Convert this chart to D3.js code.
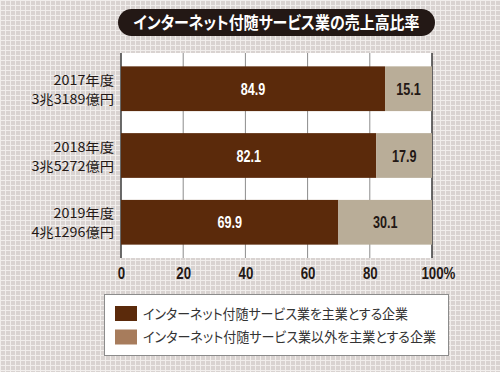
<!DOCTYPE html>
<html>
<head>
<meta charset="utf-8">
<script src="https://cdn.jsdelivr.net/npm/d3@7"></script>
<style>
  body { margin: 0; }
  svg { display: block; }
</style>
</head>
<body>
<div id="chart"></div>
<script>
var years = ["2017年度", "2018年度", "2019年度"];
var totals = ["3兆3189億円", "3兆5272億円", "4兆1296億円"];
var mainShare = [84.9, 82.1, 69.9];
var otherShare = [15.1, 17.9, 30.1];
var xTicks = [0, 20, 40, 60, 80, 100];
var seriesNames = ["インターネット付随サービス業を主業とする企業", "インターネット付随サービス業以外を主業とする企業"];
var title = "インターネット付随サービス業の売上高比率";

var W = 500, H = 372;
var jp = "'Noto Sans CJK JP', 'Noto Sans', sans-serif";
var num = "'Liberation Sans', Arial, sans-serif";

// squeeze text horizontally (condensed look)
function squeeze(sel, k) {
  sel.each(function() {
    var w = this.getComputedTextLength();
    d3.select(this).attr("textLength", w * k).attr("lengthAdjust", "spacingAndGlyphs");
  });
}
function fitTo(sel, w) {
  sel.attr("textLength", w).attr("lengthAdjust", "spacingAndGlyphs");
}

var svg = d3.select("#chart").append("svg")
  .attr("width", W)
  .attr("height", H);

// grid paper background
var pat = svg.append("defs").append("pattern")
  .attr("id", "paper")
  .attr("width", 5).attr("height", 5)
  .attr("patternUnits", "userSpaceOnUse");
pat.append("rect").attr("width", 5).attr("height", 5).attr("fill", "#d9d3d1");
pat.append("path").attr("d", "M0,0.5H5M0.5,0V5").attr("stroke", "#f1eeec").attr("stroke-width", 1);
svg.append("rect").attr("width", W).attr("height", H).attr("fill", "url(#paper)");

var x = d3.scaleLinear().domain([0, 100]).range([121, 432]);
var y = d3.scaleBand().domain(years).range([53, 258]).paddingInner(0.33).paddingOuter(0.2);

// plot area
svg.append("rect")
  .attr("x", x(0)).attr("y", 53)
  .attr("width", x(100) - x(0)).attr("height", 258 - 53)
  .attr("fill", "#fff");

svg.append("g").selectAll("line")
  .data(xTicks)
  .join("line")
    .attr("x1", function(d) { return x(d); })
    .attr("x2", function(d) { return x(d); })
    .attr("y1", 53).attr("y2", 258)
    .attr("stroke", function(d) { return d == 0 || d == 100 ? "#3a3a3a" : "#8c8c8c"; })
    .attr("stroke-width", function(d) { return d == 0 || d == 100 ? 1.5 : 1; });

// bars
var rows = years.map(function(yr, i) { return { year: yr, a: mainShare[i], b: otherShare[i] }; });

svg.append("g").selectAll("rect")
  .data(rows)
  .join("rect")
    .attr("x", x(0))
    .attr("y", function(d) { return y(d.year); })
    .attr("width", function(d) { return x(d.a) - x(0); })
    .attr("height", y.bandwidth())
    .attr("fill", "#5b2a0b");

svg.append("g").selectAll("rect")
  .data(rows)
  .join("rect")
    .attr("x", function(d) { return x(d.a); })
    .attr("y", function(d) { return y(d.year); })
    .attr("width", function(d) { return x(100) - x(d.a); })
    .attr("height", y.bandwidth())
    .attr("fill", "#b9ad98");

svg.append("g").selectAll("text")
  .data(rows)
  .join("text")
    .attr("x", function(d) { return x(d.a / 2); })
    .attr("y", function(d) { return y(d.year) + y.bandwidth() / 2; })
    .attr("dy", "0.36em")
    .attr("text-anchor", "middle")
    .style("font-family", num).style("font-weight", "bold").style("font-size", "17px")
    .attr("fill", "#fff")
    .text(function(d) { return d.a.toFixed(1); })
    .call(squeeze, 0.74);

svg.append("g").selectAll("text")
  .data(rows)
  .join("text")
    .attr("x", function(d) { return x(d.a + d.b / 2); })
    .attr("y", function(d) { return y(d.year) + y.bandwidth() / 2; })
    .attr("dy", "0.36em")
    .attr("text-anchor", "middle")
    .style("font-family", num).style("font-weight", "bold").style("font-size", "17px")
    .attr("fill", "#231815")
    .text(function(d) { return d.b.toFixed(1); })
    .call(squeeze, 0.74);

// category labels (two lines each)
svg.append("g").selectAll("text")
  .data(rows)
  .join("text")
    .attr("x", 114)
    .attr("y", function(d) { return y(d.year) + y.bandwidth() / 2 - 8.5; })
    .attr("dy", "0.36em")
    .attr("text-anchor", "end")
    .style("font-family", jp).style("font-size", "13px")
    .attr("fill", "#231815")
    .text(function(d) { return d.year; })
    .call(squeeze, 1.1);
svg.append("g").selectAll("text")
  .data(rows)
  .join("text")
    .attr("x", 114)
    .attr("y", function(d) { return y(d.year) + y.bandwidth() / 2 + 10.5; })
    .attr("dy", "0.36em")
    .attr("text-anchor", "end")
    .style("font-family", jp).style("font-size", "13px")
    .attr("fill", "#231815")
    .text(function(d, i) { return totals[i]; })
    .call(squeeze, 1.1);

// x axis labels
var ax = svg.append("g")
  .attr("transform", "translate(0,258)")
  .call(d3.axisBottom(x).tickValues(xTicks).tickSize(0).tickPadding(9)
    .tickFormat(function(d) { return d == 100 ? "100%" : d; }));
ax.select(".domain").remove();
ax.selectAll("text")
  .style("font-family", num).style("font-weight", "bold").style("font-size", "17px")
  .attr("fill", "#231815")
  .call(squeeze, 0.78);
ax.selectAll(".tick").filter(function(d) { return d == 100; }).select("text")
  .attr("text-anchor", "start")
  .attr("dx", -11);

// title pill
svg.append("rect")
  .attr("x", 118).attr("y", 9)
  .attr("width", 317).attr("height", 27)
  .attr("rx", 13.5)
  .attr("fill", "#231815");
svg.append("text")
  .attr("x", 276.5).attr("y", 22.5)
  .attr("dy", "0.36em")
  .attr("text-anchor", "middle")
  .style("font-family", jp).style("font-weight", "bold").style("font-size", "17px")
  .style("font-feature-settings", "'palt'")
  .attr("fill", "#fff")
  .text(title)
  .call(fitTo, 286);

// legend
var leg = svg.append("g");
leg.append("rect")
  .attr("x", 104.5).attr("y", 294.5)
  .attr("width", 344).attr("height", 61)
  .attr("fill", "#fff")
  .attr("stroke", "#8c8c8c");
var legColors = ["#5b2a0b", "#a77c5c"];
var legWidths = [265, 293];
var li = leg.selectAll("g")
  .data(seriesNames)
  .join("g")
    .attr("transform", function(d, i) { return "translate(115," + (306 + i * 23.5) + ")"; });
li.append("rect")
  .attr("width", 22).attr("height", 15)
  .attr("fill", function(d, i) { return legColors[i]; });
li.append("text")
  .attr("x", 28).attr("y", 7.5)
  .attr("dy", "0.36em")
  .style("font-family", jp).style("font-size", "14px")
  .style("font-feature-settings", "'palt'")
  .attr("fill", "#333")
  .attr("textLength", function(d, i) { return legWidths[i]; })
  .attr("lengthAdjust", "spacingAndGlyphs")
  .text(function(d) { return d; });
</script>
</body>
</html>
